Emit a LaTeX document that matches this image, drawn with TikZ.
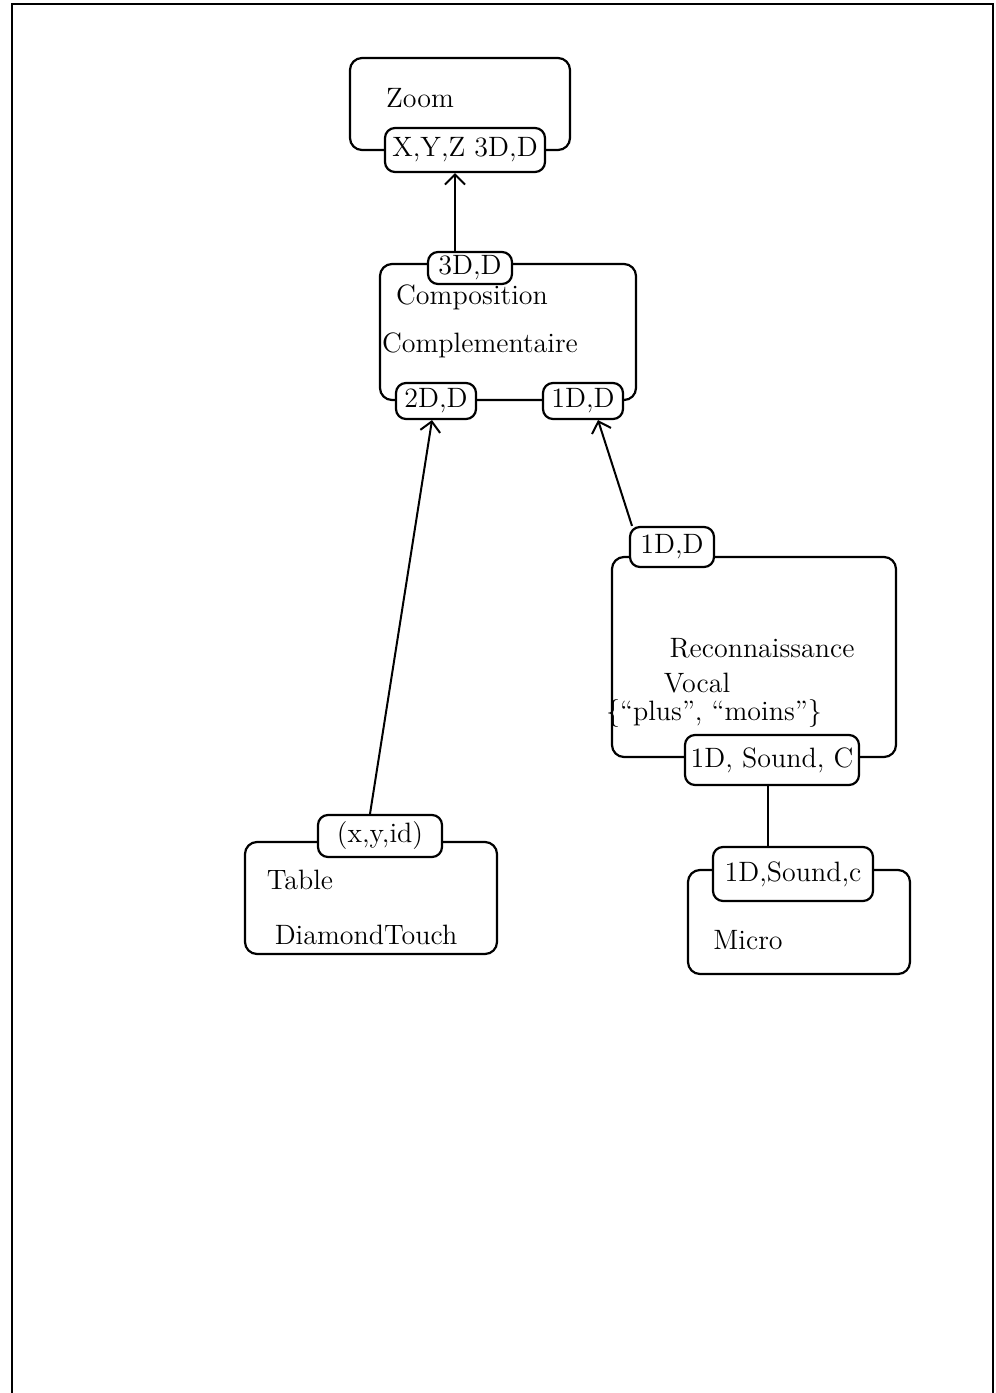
\documentclass[tikz,border=0pt]{standalone}
\usetikzlibrary{arrows.meta}
\begin{document}
\begin{tikzpicture}[x=0.5pt,y=-0.5pt,
  every node/.style={font=\fontsize{14}{16}\selectfont},
  box/.style={draw,line width=1.1pt,rounded corners=6pt,inner sep=0pt},
  port/.style={draw,fill=white,line width=1.1pt,rounded corners=5pt,inner sep=0pt},
  lbl/.style={inner sep=1pt},
  arr/.style={line width=1pt,-{Straight Barb[length=5pt,width=10pt]}},
  conn/.style={line width=1pt}]
\useasboundingbox (0,0) rectangle (996,1393);
% frame
\draw[line width=1pt] (12,1393) -- (12,4) -- (993,4) -- (993,1393);

% Zoom
\node[box,minimum width=110pt,minimum height=46pt] (zoombox) at (460,104) {};
\node[lbl] (zoomtxt) at (420,98) {Zoom};
\node[port,minimum width=80pt,minimum height=22pt] (zport) at (465,150) {X,Y,Z 3D,D};

% Composition
\node[box,minimum width=128pt,minimum height=68pt] (compbox) at (508,332) {};
\node[lbl] (comp1) at (472,297) {Composition};
\node[lbl] (comp2) at (480,345) {Complementaire};
\node[port,minimum width=42pt,minimum height=16pt] (c3d) at (470,268) {3D,D};
\node[port,minimum width=40pt,minimum height=18pt] (p2d) at (436,401) {2D,D};
\node[port,minimum width=40pt,minimum height=18pt] (p1d) at (583,401) {1D,D};

% Reconnaissance vocale
\node[box,minimum width=142pt,minimum height=100pt] (recobox) at (754,657) {};
\node[lbl] (reco1) at (762,648) {Reconnaissance};
\node[lbl] (reco2) at (697,683) {Vocal};
\node[lbl] (reco3) at (714,713) {\{``plus'', ``moins''\}};
\node[port,minimum width=42pt,minimum height=20pt] (rin) at (672,547) {1D,D};
\node[port,minimum width=87pt,minimum height=25pt] (rout) at (772,760) {1D, Sound, C};

% Micro
\node[box,minimum width=111pt,minimum height=52pt] (microbox) at (799,922) {};
\node[lbl] (microtxt) at (748,940) {Micro};
\node[port,minimum width=80pt,minimum height=27pt] (mport) at (793,874) {1D,Sound,c};

% Table DiamondTouch
\node[box,minimum width=126pt,minimum height=56pt] (tablebox) at (371,898) {};
\node[lbl] (table1) at (300,880) {Table};
\node[lbl] (table2) at (366,935) {DiamondTouch};
\node[port,minimum width=62pt,minimum height=21pt] (tport) at (380,836) {(x,y,id)};

% connectors
\draw[arr] ([xshift=-7.5pt]c3d.north) -- ([xshift=-5pt]zport.south);
\draw[arr] ([xshift=-5pt]tport.north) -- ([xshift=-2pt]p2d.south);
\draw[arr] ([xshift=-20pt]rin.north) -- ([xshift=7.5pt]p1d.south);
\draw[conn] ([xshift=-2pt]rout.south) -- ([xshift=-2pt]rout.south |- mport.north);
\end{tikzpicture}
\end{document}
